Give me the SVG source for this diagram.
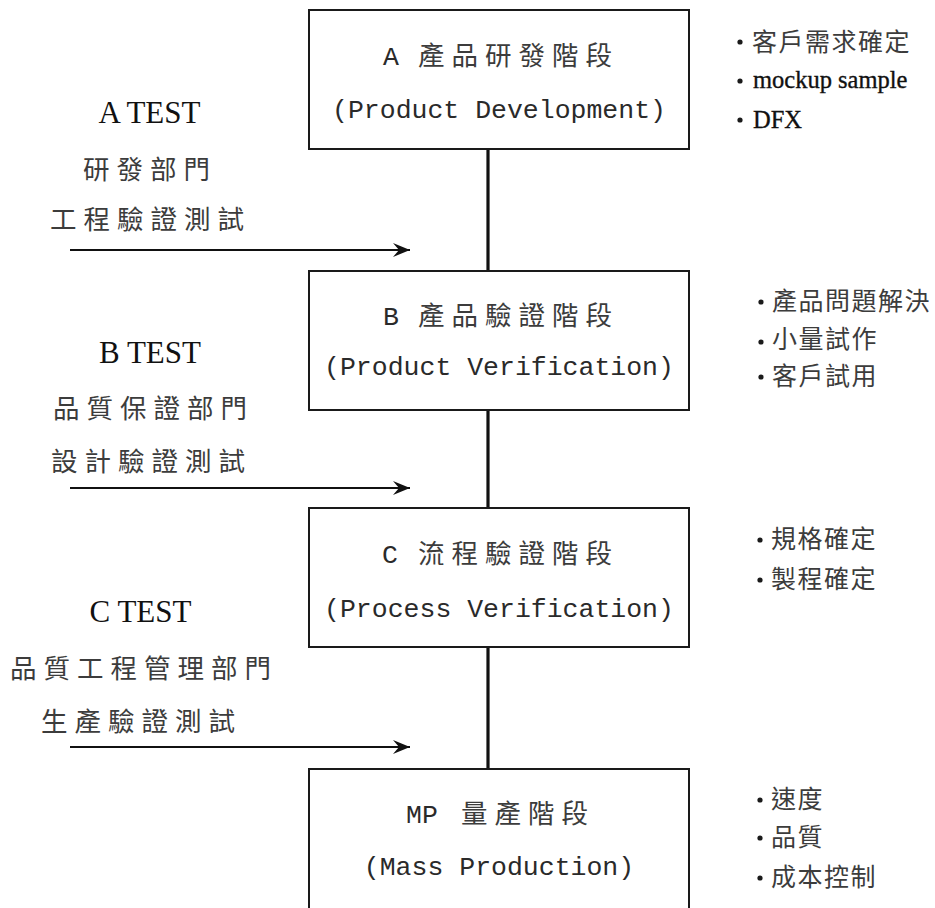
<svg xmlns="http://www.w3.org/2000/svg" width="935" height="908" viewBox="0 0 935 908">
  <style>
    .box { fill: #ffffff; stroke: #1a1a1a; stroke-width: 2; }
    .link { stroke: #111111; stroke-width: 3.2; fill: none; }
    .flow { stroke: #111111; stroke-width: 1.8; fill: none; marker-end: url(#head); }
    .mono { font-family: "Liberation Mono", "DejaVu Sans Mono", monospace; font-size: 26.5px; fill: #2a2a2a; }
    .cjk { font-family: "Noto Sans CJK TC", "Noto Sans CJK SC", sans-serif; font-size: 26.5px; fill: #3c3c3c; letter-spacing: 7px; }
    .test { font-family: "Liberation Serif", "Times New Roman", serif; font-size: 31px; fill: #111111; text-anchor: middle; }
    .note { font-family: "Noto Sans CJK TC", "Noto Sans CJK SC", sans-serif; font-size: 25px; fill: #3c3c3c; letter-spacing: 1.5px; }
    .note-latin { font-family: "Liberation Serif", "Times New Roman", serif; font-size: 24.5px; fill: #111111; stroke: #111111; stroke-width: 0.35px; }
    .dot { fill: #1a1a1a; }
  </style>
  <defs>
    <marker id="head" markerUnits="userSpaceOnUse" markerWidth="20" markerHeight="16" viewBox="-18 -8 20 16" refX="0" refY="0" orient="auto">
      <path d="M0,0 L-17,-7 L-11,0 L-17,7 Z" fill="#111111"/>
    </marker>
  </defs>
  <rect width="935" height="908" fill="#ffffff"/>

  <!-- connectors: stage chain and test inputs -->
  <g id="connectors">
    <line class="link" x1="488" y1="149" x2="488" y2="271"/>
    <line class="link" x1="488" y1="410" x2="488" y2="508"/>
    <line class="link" x1="488" y1="647" x2="488" y2="769"/>
    <line class="flow" x1="70" y1="250" x2="410" y2="250"/>
    <line class="flow" x1="70" y1="488" x2="410" y2="488"/>
    <line class="flow" x1="70" y1="747" x2="410" y2="747"/>
  </g>

  <!-- stage boxes -->
  <g id="stage-a">
    <rect class="box" x="309" y="10" width="380" height="139"/>
    <text y="65"><tspan class="mono" x="383">A</tspan><tspan class="cjk" x="418">產品研發階段</tspan></text>
    <text class="mono" x="499" y="118" text-anchor="middle">(Product Development)</text>
  </g>
  <g id="stage-b">
    <rect class="box" x="309" y="271" width="380" height="139"/>
    <text y="325"><tspan class="mono" x="383">B</tspan><tspan class="cjk" x="418">產品驗證階段</tspan></text>
    <text class="mono" x="499" y="375" text-anchor="middle">(Product Verification)</text>
  </g>
  <g id="stage-c">
    <rect class="box" x="309" y="508" width="380" height="139"/>
    <text y="563"><tspan class="mono" x="382">C</tspan><tspan class="cjk" x="418">流程驗證階段</tspan></text>
    <text class="mono" x="499" y="617" text-anchor="middle">(Process Verification)</text>
  </g>
  <g id="stage-mp">
    <rect class="box" x="309" y="769" width="380" height="150"/>
    <text y="823"><tspan class="mono" x="406">MP</tspan><tspan class="cjk" x="461">量產階段</tspan></text>
    <text class="mono" x="499" y="875" text-anchor="middle">(Mass Production)</text>
  </g>

  <!-- test labels on the left -->
  <g id="test-a">
    <text class="test" x="149.5" y="123">A TEST</text>
    <text class="cjk" x="83" y="179">研發部門</text>
    <text class="cjk" x="50" y="229">工程驗證測試</text>
  </g>
  <g id="test-b">
    <text class="test" x="150" y="363">B TEST</text>
    <text class="cjk" x="53" y="418">品質保證部門</text>
    <text class="cjk" x="51" y="471">設計驗證測試</text>
  </g>
  <g id="test-c">
    <text class="test" x="140.5" y="622">C TEST</text>
    <text class="cjk" x="10" y="678">品質工程管理部門</text>
    <text class="cjk" x="41" y="731">生產驗證測試</text>
  </g>

  <!-- bullet notes on the right -->
  <g id="notes-a">
    <circle class="dot" cx="740" cy="42" r="2.6"/>
    <text class="note" x="752" y="51">客戶需求確定</text>
    <circle class="dot" cx="740" cy="81" r="2.6"/>
    <text class="note-latin" x="753" y="88">mockup sample</text>
    <circle class="dot" cx="740" cy="120" r="2.6"/>
    <text class="note-latin" x="753" y="128">DFX</text>
  </g>
  <g id="notes-b">
    <circle class="dot" cx="761" cy="302" r="2.6"/>
    <text class="note" x="772" y="310">產品問題解決</text>
    <circle class="dot" cx="761" cy="342" r="2.6"/>
    <text class="note" x="772" y="348">小量試作</text>
    <circle class="dot" cx="761" cy="377" r="2.6"/>
    <text class="note" x="772" y="385">客戶試用</text>
  </g>
  <g id="notes-c">
    <circle class="dot" cx="760" cy="540" r="2.6"/>
    <text class="note" x="771" y="548">規格確定</text>
    <circle class="dot" cx="760" cy="580" r="2.6"/>
    <text class="note" x="771" y="588">製程確定</text>
  </g>
  <g id="notes-mp">
    <circle class="dot" cx="760" cy="800" r="2.6"/>
    <text class="note" x="771" y="808">速度</text>
    <circle class="dot" cx="760" cy="838" r="2.6"/>
    <text class="note" x="771" y="846">品質</text>
    <circle class="dot" cx="760" cy="878" r="2.6"/>
    <text class="note" x="771" y="886">成本控制</text>
  </g>
</svg>
